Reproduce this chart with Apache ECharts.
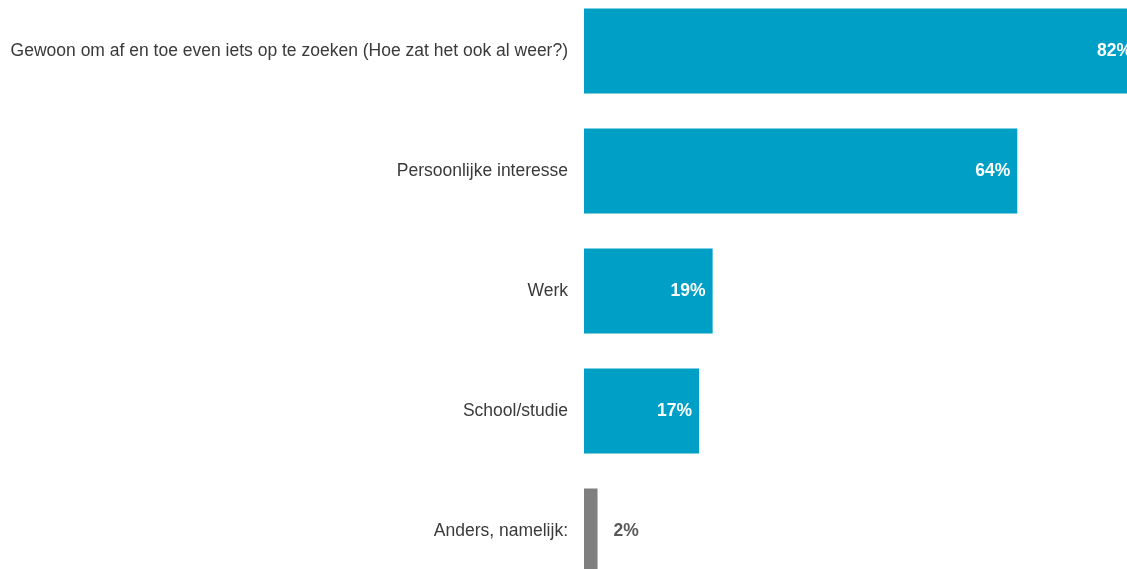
<!DOCTYPE html>
<html>
<head>
<meta charset="utf-8">
<script src="https://cdn.jsdelivr.net/npm/echarts@6/dist/echarts.min.js"></script>
<style>html,body{margin:0;padding:0;background:#fff;overflow:hidden;width:1127px;height:569px;position:relative;}#c{position:absolute;left:0;top:-9px;width:1261px;height:600px;}</style>
</head>
<body>
<div id="c"></div>
<script>
const categories = [
  "Gewoon om af en toe even iets op te zoeken (Hoe zat het ook al weer?)",
  "Persoonlijke interesse",
  "Werk",
  "School/studie",
  "Anders, namelijk:"
];
const values = [82, 64, 19, 17, 2];
const barColors = ["#00A0C6", "#00A0C6", "#00A0C6", "#00A0C6", "#7F7F7F"];

const chart = echarts.init(document.getElementById('c'), null, {renderer: 'canvas'});
chart.setOption({
  animation: false,
  grid: {left: 584, right: 0, top: 0, bottom: 0, containLabel: false},
  xAxis: {type: 'value', min: 0, max: 100, show: false},
  yAxis: {
    type: 'category', inverse: true, data: categories,
    axisLine: {show: false}, axisTick: {show: false},
    axisLabel: {margin: 16, color: '#3a3a3a', fontSize: 17.5, fontFamily: 'Liberation Sans, Arial, sans-serif'}
  },
  series: [{
    type: 'bar',
    barWidth: 85,
    data: values.map((v, i) => {
      const last = i === values.length - 1;
      return {
        value: v,
        itemStyle: {color: barColors[i]},
        label: last ? {position: 'right', distance: 16, color: '#595959'} : {position: 'insideRight', distance: 7, color: '#ffffff'}
      };
    }),
    label: {
      show: true, fontWeight: 'bold', fontSize: 17.5,
      fontFamily: 'Liberation Sans, Arial, sans-serif',
      formatter: p => p.value + '%'
    }
  }]
});
</script>
</body>
</html>
